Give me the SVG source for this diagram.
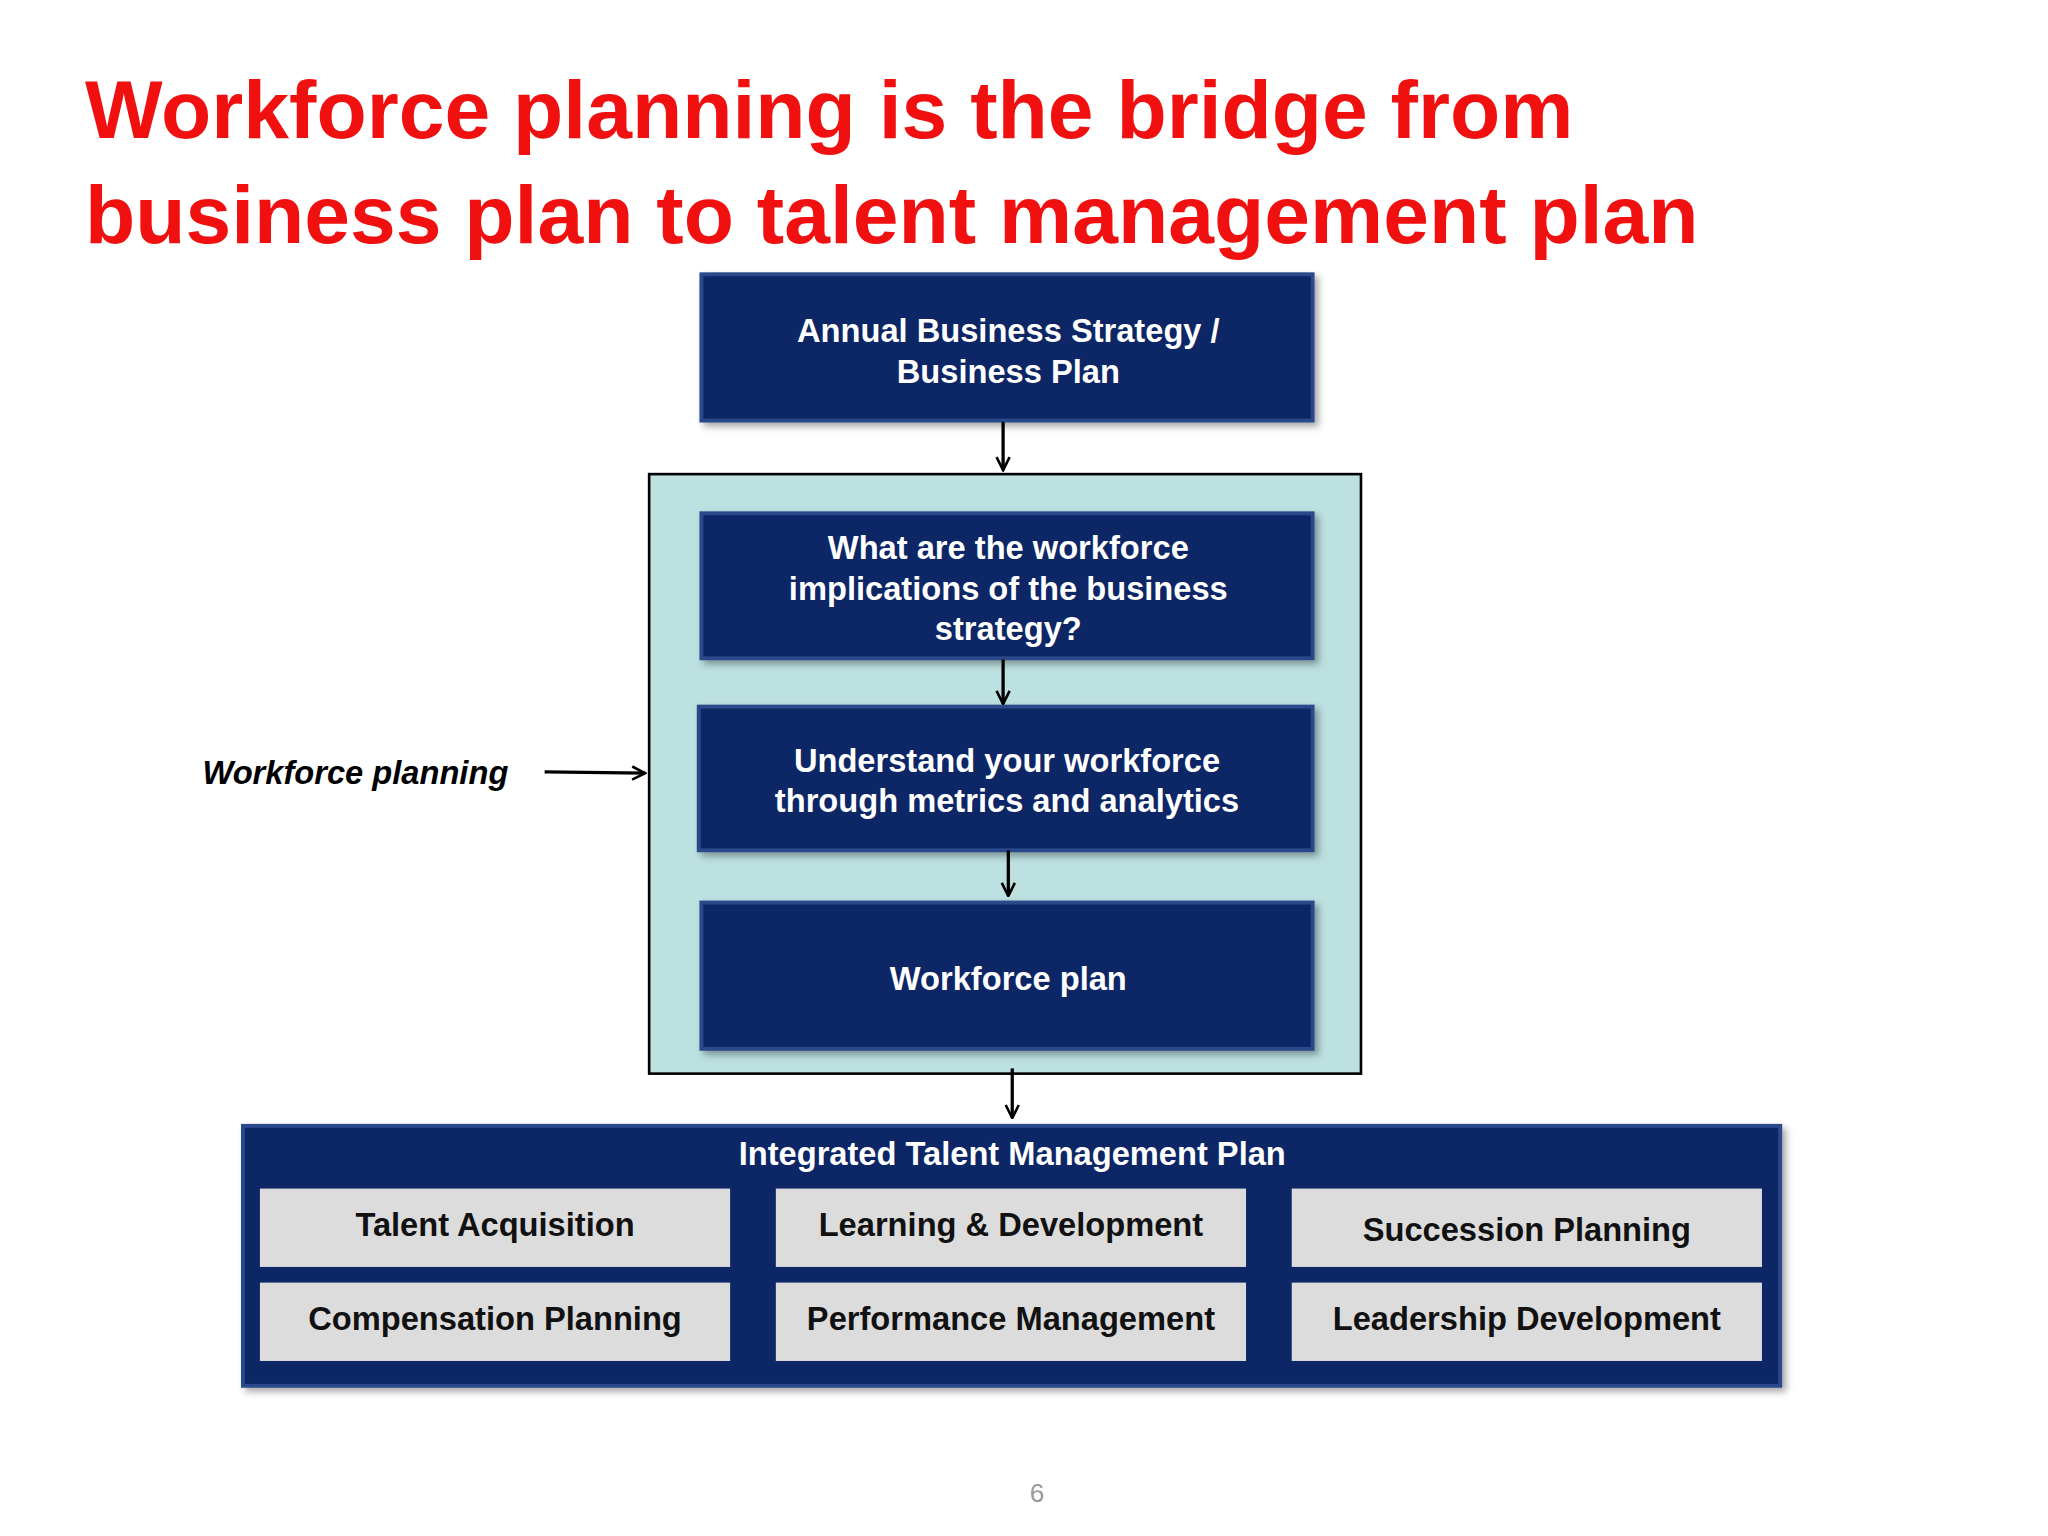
<svg xmlns="http://www.w3.org/2000/svg" width="2048" height="1536" viewBox="0 0 2048 1536">
<defs>
<style>
.nb{fill:#0b2566;stroke:#2c4a8a;stroke-width:3;filter:url(#sh)}
.wt{font-family:"Liberation Sans",Arial,sans-serif;font-weight:bold;font-size:25px;fill:#fff;text-anchor:middle}
.cell{fill:#dcdcdc}
.ct{font-family:"Liberation Sans",Arial,sans-serif;font-weight:bold;font-size:25px;fill:#111;text-anchor:middle}
.ar{stroke:#000;stroke-width:2.5;fill:none;marker-end:url(#ah)}
</style>
<filter id="sh" x="-5%" y="-5%" width="115%" height="120%"><feDropShadow dx="3" dy="3" stdDeviation="3" flood-color="#000" flood-opacity="0.35"/></filter>
<marker id="ah" viewBox="0 0 12 12" refX="11" refY="6" markerWidth="12" markerHeight="12" markerUnits="userSpaceOnUse" orient="auto"><path d="M1,1 L11,6 L1,11" fill="none" stroke="#000" stroke-width="2"/></marker>
</defs>
<rect width="2048" height="1536" fill="#fff"/>
<g transform="scale(1.30612)">
<g id="title" font-family="Liberation Sans,Arial,sans-serif" font-weight="bold" font-size="63" fill="#f01010">
<text x="65" y="106">Workforce planning is the bridge from</text>
<text x="65" y="186">business plan to talent management plan</text>
</g>
<g id="container"><rect x="497" y="363" width="545" height="459" fill="#bde0e0" stroke="#000" stroke-width="2"/></g>
<g id="n1"><rect class="nb" x="537" y="210" width="468" height="112"/><text class="wt" x="772" y="262">Annual Business Strategy /</text><text class="wt" x="772" y="293">Business Plan</text></g>
<g id="n2"><rect class="nb" x="537" y="393" width="468" height="111"/><text class="wt" x="772" y="428">What are the workforce</text><text class="wt" x="772" y="459">implications of the business</text><text class="wt" x="772" y="490">strategy?</text></g>
<g id="n3"><rect class="nb" x="535" y="541" width="470" height="110"/><text class="wt" x="771" y="591">Understand your workforce</text><text class="wt" x="771" y="622">through metrics and analytics</text></g>
<g id="n4"><rect class="nb" x="537" y="691" width="468" height="112"/><text class="wt" x="772" y="758">Workforce plan</text></g>
<g id="label"><text x="155" y="600" font-family="Liberation Sans,Arial,sans-serif" font-weight="bold" font-style="italic" font-size="25" fill="#000">Workforce planning</text></g>
<g id="itmp"><rect class="nb" x="186" y="862" width="1177" height="199"/><text class="wt" x="775" y="892">Integrated Talent Management Plan</text>
<rect class="cell" x="199" y="910" width="360" height="60"/><text class="ct" x="379" y="946">Talent Acquisition</text>
<rect class="cell" x="594" y="910" width="360" height="60"/><text class="ct" x="774" y="946">Learning &amp; Development</text>
<rect class="cell" x="989" y="910" width="360" height="60"/><text class="ct" x="1169" y="950">Succession Planning</text>
<rect class="cell" x="199" y="982" width="360" height="60"/><text class="ct" x="379" y="1018">Compensation Planning</text>
<rect class="cell" x="594" y="982" width="360" height="60"/><text class="ct" x="774" y="1018">Performance Management</text>
<rect class="cell" x="989" y="982" width="360" height="60"/><text class="ct" x="1169" y="1018">Leadership Development</text>
</g>
<g id="connectors">
<line class="ar" x1="768" y1="323" x2="768" y2="360"/>
<line class="ar" x1="768" y1="505" x2="768" y2="539"/>
<line class="ar" x1="772" y1="651" x2="772" y2="686"/>
<line class="ar" x1="775" y1="818" x2="775" y2="856"/>
<line class="ar" x1="417" y1="591" x2="494" y2="592"/>
</g>
<text x="794" y="1150" font-family="Liberation Sans,Arial,sans-serif" font-size="20" fill="#999" text-anchor="middle">6</text>
</g>
</svg>
